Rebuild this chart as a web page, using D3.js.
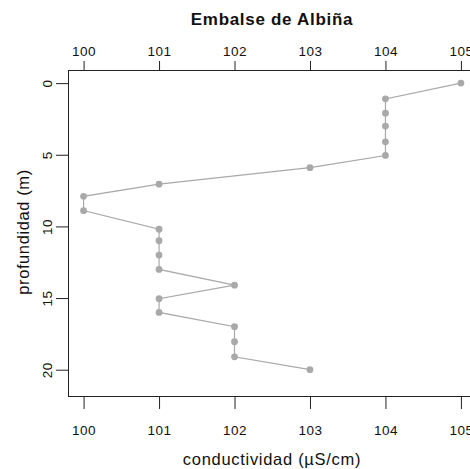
<!DOCTYPE html>
<html>
<head>
<meta charset="utf-8">
<script src="https://cdn.jsdelivr.net/npm/d3@7"></script>
<style>
  body { margin: 0; background: #fff; }
  svg { display: block; font-family: "Liberation Sans", Arial, sans-serif; }
</style>
</head>
<body>
<svg id="chart" width="470" height="469"></svg>
<script>
const depths = [0, 1.1, 2.1, 3.0, 4.1, 5.05, 5.9, 7.05, 7.9, 8.9, 10.2, 11.0, 12.0, 13.0, 14.1, 15.05, 16.0, 17.0, 18.05, 19.1, 20.0];
const conductivity = [105, 104, 104, 104, 104, 104, 103, 101, 100, 100, 101, 101, 101, 101, 102, 101, 101, 102, 102, 102, 103];
const xTicks = [100, 101, 102, 103, 104, 105];
const yTicks = [0, 5, 10, 15, 20];
const title = "Embalse de Albiña";
const xLabel = "conductividad (µS/cm)";
const yLabel = "profundidad (m)";

const svg = d3.select("#chart");
const box = { left: 68.5, right: 476, top: 70.5, bottom: 396.5 };

const x = d3.scaleLinear().domain([99.8, 105.2]).range([box.left, box.right]);
const y = d3.scaleLinear().domain([-0.88, 21.87]).range([box.top, box.bottom]);

const ink = "#222";
const tickFont = "13.5px";

// top axis
const topAxis = svg.append("g")
  .attr("transform", `translate(0,${box.top})`)
  .call(d3.axisTop(x).tickValues(xTicks).tickFormat(d3.format("d")).tickSize(9.5).tickPadding(5));
topAxis.select(".domain").remove();

// bottom axis (ticks and labels)
const botAxis = svg.append("g")
  .attr("transform", `translate(0,${box.bottom})`)
  .call(d3.axisBottom(x).tickValues(xTicks).tickFormat(d3.format("d")).tickSize(12.5).tickPadding(16));
botAxis.select(".domain").remove();

// left axis
const leftAxis = svg.append("g")
  .attr("transform", `translate(${box.left},0)`)
  .call(d3.axisLeft(y).tickValues(yTicks).tickFormat(d3.format("d")).tickSize(12.5));
leftAxis.select(".domain").remove();
leftAxis.selectAll("text")
  .attr("transform", "rotate(-90)")
  .attr("x", 0)
  .attr("y", -21.5)
  .attr("dy", "0.36em")
  .attr("text-anchor", "middle");

[topAxis, botAxis, leftAxis].forEach(g => {
  g.selectAll("line").attr("stroke", ink).attr("stroke-width", 1);
  g.selectAll("text").attr("fill", "#111").style("font-size", tickFont)
    .style("letter-spacing", "0.5px")
    .style("font-family", "'Liberation Sans', Arial, sans-serif");
});

// box
svg.append("rect")
  .attr("x", box.left).attr("y", box.top)
  .attr("width", box.right - box.left).attr("height", box.bottom - box.top)
  .attr("fill", "none").attr("stroke", ink).attr("stroke-width", 1);

const data = depths.map((d, i) => ({ depth: d, value: conductivity[i] }));

svg.append("path")
  .datum(data)
  .attr("fill", "none")
  .attr("stroke", "#a9a9a9")
  .attr("stroke-width", 1.2)
  .attr("d", d3.line().x(d => x(d.value)).y(d => y(d.depth)));

svg.append("g").selectAll("circle")
  .data(data)
  .join("circle")
  .attr("cx", d => x(d.value))
  .attr("cy", d => y(d.depth))
  .attr("r", 3.4)
  .attr("fill", "#a9a9a9");

// titles
svg.append("text")
  .attr("x", 272).attr("y", 25)
  .attr("text-anchor", "middle")
  .style("font-size", "17px").style("font-weight", "bold")
  .style("letter-spacing", "0.7px")
  .attr("fill", "#111")
  .text(title);

svg.append("text")
  .attr("x", 272).attr("y", 465)
  .attr("text-anchor", "middle")
  .style("font-size", "16.5px")
  .style("letter-spacing", "0.7px")
  .attr("fill", "#111")
  .text(xLabel);

svg.append("text")
  .attr("transform", `translate(29, 232) rotate(-90)`)
  .attr("text-anchor", "middle")
  .style("font-size", "16.5px")
  .style("letter-spacing", "0.6px")
  .attr("fill", "#111")
  .text(yLabel);
</script>
</body>
</html>
